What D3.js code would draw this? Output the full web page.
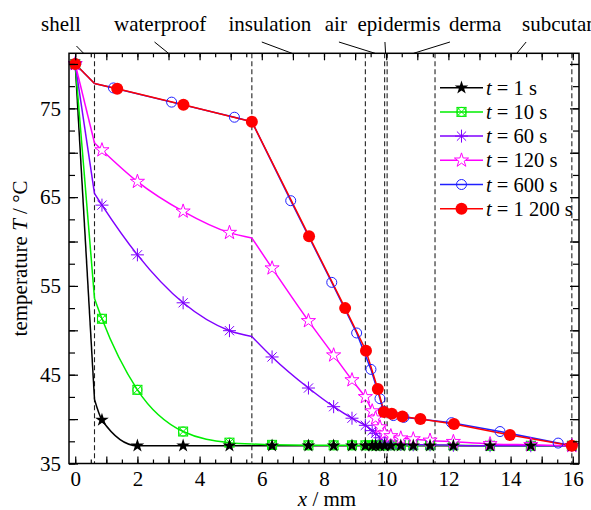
<!DOCTYPE html>
<html>
<head>
<meta charset="utf-8">
<script src="https://cdn.jsdelivr.net/npm/d3@7"></script>
<style>
body { margin: 0; background: #fff; }
text { font-family: "Liberation Serif", "Times New Roman", serif; }
</style>
</head>
<body>
<svg class="chart" width="591" height="510"></svg>
<script>
// layer boundaries along x (mm) and their names
var layerX = [0.62, 5.68, 9.33, 9.95, 10.03, 11.57, 15.97];
var layerNames = ["shell", "waterproof", "insulation", "air", "epidermis", "derma", "subcutaneous"];
var nameX = [-0.46, 2.73, 6.26, 8.38, 10.41, 12.86, 14.37];
var leadFrom = [0.04, 2.55, 6.0, 8.48, 9.96, 12.05, 14.5];
var leadTo = [0.27, 3.0, 6.97, 9.64, 9.98, 10.88, 14.2];

// shared marker positions for t = 1, 10, 60, 120 s
var markX = [0, 0.86, 2.0, 3.47, 4.96, 6.33, 7.5, 8.31, 8.9, 9.33, 9.55, 9.66, 9.8, 9.95, 10.15, 10.47, 10.87, 11.41, 12.16, 13.34, 14.65, 15.97];
var t1   = [80, 39.9, 37.0, 37.0, 37.0, 37.0, 37.0, 37.0, 37.0, 37.0, 37.0, 37.0, 37.0, 37.0, 37.0, 37.0, 37.0, 37.0, 37.0, 37.0, 37.0, 37.0];
var t10  = [80, 51.3, 43.3, 38.6, 37.35, 37.1, 37.05, 37.05, 37.05, 37.05, 37.05, 37.05, 37.05, 37.05, 37.05, 37.05, 37.05, 37.05, 37.05, 37.0, 37.0, 37.0];
var t60  = [80, 64.1, 58.5, 53.1, 49.96, 47.0, 43.5, 41.4, 40.1, 39.3, 38.7, 38.4, 37.9, 37.4, 37.2, 37.15, 37.1, 37.1, 37.05, 37.0, 37.0, 37.0];
var t120 = [80, 70.3, 66.75, 63.4, 61.0, 57.0, 51.06, 47.2, 44.4, 42.5, 40.9, 40.1, 39.1, 38.4, 38.1, 37.85, 37.75, 37.6, 37.45, 37.2, 37.1, 37.0];

// values at the layer boundaries (no marker there)
var kinkX = [0.62, 5.68];
var kink1 = [42.2, 37.0];
var kink10 = [53.6, 37.2];
var kink60 = [65.4, 49.3];
var kink120 = [71.1, 60.4];

// t = 600 s
var t600X = [0, 1.23, 3.1, 5.12, 6.93, 8.25, 9.05, 9.51, 9.8, 9.91, 10.23, 10.57, 12.1, 13.66, 15.53];
var t600  = [80, 77.3, 75.7, 74.0, 64.6, 55.4, 49.7, 45.6, 42.3, 40.9, 40.4, 40.2, 39.6, 38.6, 37.3];
var kink600X = [0.62, 5.68, 15.97];
var kink600 = [77.8, 73.5, 37.0];

// t = 1200 s
var t1200X = [0, 1.35, 3.48, 5.68, 7.52, 8.68, 9.35, 9.73, 9.93, 10.18, 10.52, 11.1, 12.18, 13.98, 15.97];
var t1200  = [80, 77.2, 75.4, 73.5, 60.6, 52.5, 47.7, 43.4, 40.8, 40.6, 40.3, 40.0, 39.45, 38.2, 37.0];
var kink1200X = [0.62];
var kink1200 = [77.8];

var xTicks = d3.range(0, 16.01, 2);
var yTicks = [35, 45, 55, 65, 75];

function zip(xs, ys) { return xs.map(function(x, i) { return {x: x, y: ys[i]}; }); }

var series = [
  {label: "1 s", color: "#000000", sym: "star", marks: zip(markX, t1), line: zip(markX, t1).concat(zip(kinkX, kink1)), curve: d3.curveMonotoneX},
  {label: "10 s", color: "#00ee00", sym: "boxx", marks: zip(markX, t10), line: zip(markX, t10).concat(zip(kinkX, kink10)), curve: d3.curveMonotoneX},
  {label: "60 s", color: "#7f00ff", sym: "aster", marks: zip(markX, t60), line: zip(markX, t60).concat(zip(kinkX, kink60)), curve: d3.curveMonotoneX},
  {label: "120 s", color: "#ff00ff", sym: "ostar", marks: zip(markX, t120), line: zip(markX, t120).concat(zip(kinkX, kink120)), curve: d3.curveMonotoneX},
  {label: "600 s", color: "#2020ff", sym: "ocircle", marks: zip(t600X, t600), line: zip(t600X, t600).concat(zip(kink600X, kink600)), curve: d3.curveLinear},
  {label: "1 200 s", color: "#ff0000", sym: "circle", marks: zip(t1200X, t1200), line: zip(t1200X, t1200).concat(zip(kink1200X, kink1200)), curve: d3.curveLinear}
];

var pLeft = 69, pRight = 579, pTop = 53.3, pBottom = 463.5;
var xScale = d3.scaleLinear().domain([-0.2, 16.2]).range([pLeft, pRight]);
var yScale = d3.scaleLinear().domain([35, 81.2]).range([pBottom, pTop]);

var svg = d3.select(".chart");

// split line at layer boundaries so the kinks stay sharp
var breaks = [0.62, 5.68, 9.33, 9.95];
function segments(pts) {
  pts = pts.slice().sort(function(a, b) { return a.x - b.x; });
  var out = [], cur = [];
  pts.forEach(function(p) {
    cur.push(p);
    if (cur.length > 1 && breaks.some(function(b) { return Math.abs(b - p.x) < 1e-6; })) {
      out.push(cur);
      cur = [p];
    }
  });
  if (cur.length > 1) out.push(cur);
  return out;
}

function drawSymbol(g, sym, color) {
  if (sym == "star") {
    g.append("path").attr("d", d3.symbol(d3.symbolStar).size(58)()).attr("fill", color);
  } else if (sym == "ostar") {
    g.append("path").attr("d", d3.symbol(d3.symbolStar).size(62)()).attr("fill", "#fff").attr("stroke", color).attr("stroke-width", 1);
  } else if (sym == "boxx") {
    g.append("rect").attr("x", -4.5).attr("y", -4.5).attr("width", 9).attr("height", 9).attr("fill", "none").attr("stroke", color).attr("stroke-width", 1);
    g.append("path").attr("d", "M-4.5,-4.5L4.5,4.5M-4.5,4.5L4.5,-4.5").attr("stroke", color).attr("stroke-width", 1);
    g.append("circle").attr("r", 4.5).attr("fill", "none").attr("stroke", color).attr("stroke-width", 1);
  } else if (sym == "aster") {
    g.append("path").attr("d", "M-6.5,0L6.5,0M0,-6.5L0,6.5M-4.6,-4.6L4.6,4.6M-4.6,4.6L4.6,-4.6").attr("stroke", color).attr("stroke-width", 1);
  } else if (sym == "ocircle") {
    g.append("circle").attr("r", 5).attr("fill", "none").attr("stroke", color).attr("stroke-width", 1);
  } else if (sym == "circle") {
    g.append("circle").attr("r", 6).attr("fill", color);
  }
}

// layer boundaries
svg.append("g").selectAll("line").data(layerX).enter().append("line")
  .attr("x1", function(d) { return xScale(d); })
  .attr("x2", function(d) { return xScale(d); })
  .attr("y1", pTop).attr("y2", pBottom)
  .attr("stroke", "#222").attr("stroke-width", 1.1)
  .attr("stroke-dasharray", "5,3");

// lines
var line = d3.line().x(function(d) { return xScale(d.x); }).y(function(d) { return yScale(d.y); });
series.forEach(function(s) {
  svg.append("g").selectAll("path").data(segments(s.line)).enter().append("path")
    .attr("d", line.curve(s.curve))
    .attr("fill", "none")
    .attr("stroke", s.color)
    .attr("stroke-width", 1.5);
});

// markers
var order = [1, 2, 3, 0, 4, 5];
order.forEach(function(k) {
  var s = series[k];
  svg.append("g").selectAll("g").data(s.marks).enter().append("g")
    .attr("transform", function(d) { return "translate(" + xScale(d.x) + "," + yScale(d.y) + ")"; })
    .each(function() { drawSymbol(d3.select(this), s.sym, s.color); });
});

// axes: minor + major ticks, inward on all sides
function tickAxis(axis, pos, values, size) {
  var g = svg.append("g").attr("transform", pos)
    .call(axis.tickValues(values).tickSize(size).tickFormat(""));
  g.select(".domain").remove();
  g.selectAll("line").attr("stroke", "#000").attr("stroke-width", 1.2);
}
var xMinor = d3.range(0, 16.01, 0.5), xMajor = d3.range(0, 16.01, 1);
var yMinor = d3.range(35, 81, 2.5), yMajor = d3.range(35, 81, 5);
tickAxis(d3.axisBottom(xScale), "translate(0," + pBottom + ")", xMinor, -4);
tickAxis(d3.axisBottom(xScale), "translate(0," + pBottom + ")", xMajor, -7);
tickAxis(d3.axisTop(xScale), "translate(0," + pTop + ")", xMinor, -4);
tickAxis(d3.axisTop(xScale), "translate(0," + pTop + ")", xMajor, -7);
tickAxis(d3.axisLeft(yScale), "translate(" + pLeft + ",0)", yMinor, -6);
tickAxis(d3.axisLeft(yScale), "translate(" + pLeft + ",0)", yMajor, -9);
tickAxis(d3.axisRight(yScale), "translate(" + pRight + ",0)", yMinor, -6);
tickAxis(d3.axisRight(yScale), "translate(" + pRight + ",0)", yMajor, -9);

// tick labels
var xl = svg.append("g").attr("transform", "translate(0," + pBottom + ")")
  .call(d3.axisBottom(xScale).tickValues(xTicks).tickSize(0).tickPadding(8).tickFormat(d3.format("d")));
xl.select(".domain").remove();
xl.attr("font-family", null).attr("font-size", 21);
var yl = svg.append("g").attr("transform", "translate(" + pLeft + ",0)")
  .call(d3.axisLeft(yScale).tickValues(yTicks).tickSize(0).tickPadding(8).tickFormat(d3.format("d")));
yl.select(".domain").remove();
yl.attr("font-family", null).attr("font-size", 21);

// frame
svg.append("rect")
  .attr("x", pLeft).attr("y", pTop)
  .attr("width", pRight - pLeft).attr("height", pBottom - pTop)
  .attr("fill", "none").attr("stroke", "#000").attr("stroke-width", 1.5);

// axis titles
var xt = svg.append("text")
  .attr("x", (pLeft + pRight) / 2 + 3).attr("y", 506)
  .attr("text-anchor", "middle").attr("font-size", 21);
xt.append("tspan").attr("font-style", "italic").text("x");
xt.append("tspan").text(" / mm");

var yt = svg.append("text")
  .attr("transform", "translate(27," + ((pTop + pBottom) / 2) + ") rotate(-90)")
  .attr("text-anchor", "middle").attr("font-size", 21);
yt.append("tspan").text("temperature ");
yt.append("tspan").attr("font-style", "italic").text("T");
yt.append("tspan").text(" / \u00B0C");

// layer names with leader lines
svg.append("g").selectAll("text").data(layerNames).enter().append("text")
  .attr("x", function(d, i) { return xScale(nameX[i]); })
  .attr("y", 31)
  .attr("text-anchor", function(d, i) { return i == layerNames.length - 1 ? "start" : "middle"; })
  .attr("font-size", 21)
  .text(function(d) { return d; });
svg.append("g").selectAll("line").data(leadFrom).enter().append("line")
  .attr("x1", function(d) { return xScale(d); })
  .attr("y1", function(d, i) { return i == 0 ? 46 : 42; })
  .attr("x2", function(d, i) { return xScale(leadTo[i]); })
  .attr("y2", pTop)
  .attr("stroke", "#000").attr("stroke-width", 1);

// legend
var legend = svg.append("g");
series.forEach(function(s, i) {
  var y = 87.7 + 24.2 * i;
  legend.append("line").attr("x1", 440).attr("x2", 483).attr("y1", y).attr("y2", y)
    .attr("stroke", s.color).attr("stroke-width", 1.5);
  drawSymbol(legend.append("g").attr("transform", "translate(461.5," + y + ")"), s.sym, s.color);
  var t = legend.append("text").attr("x", 486).attr("y", y).attr("dy", "0.35em").attr("font-size", 20.5);
  t.append("tspan").attr("font-style", "italic").text("t");
  t.append("tspan").text(" = " + s.label);
});
</script>
</body>
</html>
